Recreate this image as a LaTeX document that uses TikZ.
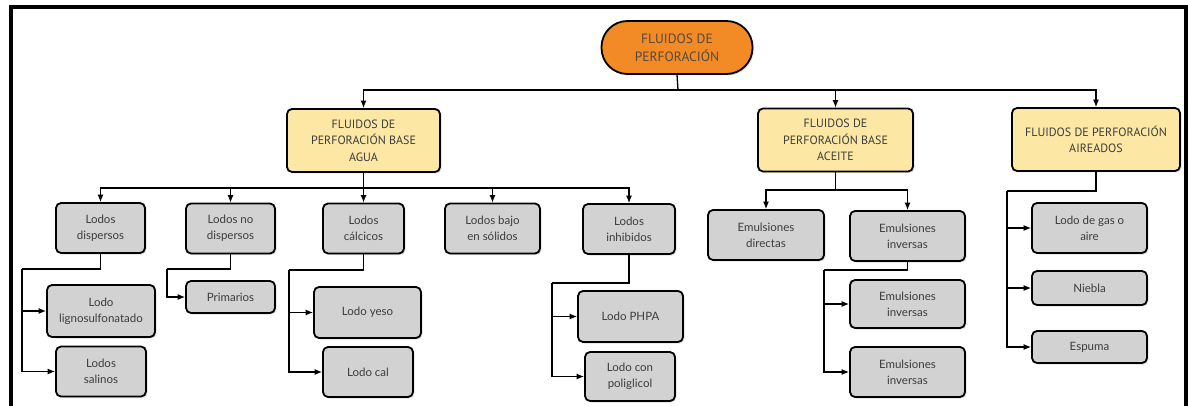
\documentclass[tikz,border=0pt]{standalone}
\usepackage{fontspec}
\usepackage{xcolor}
\usepackage{tikz}
\usetikzlibrary{arrows.meta,shadows}
\newfontfamily\capfont{PT Sans}
\newfontfamily\boxfont{Lato}
\definecolor{naranja}{HTML}{F28B25}
\definecolor{amarillo}{HTML}{FCE7A4}
\definecolor{gris}{HTML}{D2D2D2}
\definecolor{letra}{HTML}{3C3C3C}

\begin{document}
\begin{tikzpicture}[x=1pt,y=-1pt,
    raiz/.style={draw,line width=1.8pt,fill=naranja,rounded corners=26pt,
        minimum width=151pt,minimum height=53pt,inner sep=0pt,align=center,
        text=letra!80!brown,font=\capfont\fontsize{13.5}{18}\selectfont,
        drop shadow={shadow xshift=1.5pt,shadow yshift=-1.5pt,opacity=0.25}},
    tipo/.style={draw,line width=1.8pt,fill=amarillo,rounded corners=5pt,
        minimum height=63pt,inner sep=0pt,align=center,text=letra,
        font=\capfont\fontsize{12}{16.5}\selectfont,
        drop shadow={shadow xshift=1.5pt,shadow yshift=-1.5pt,opacity=0.25}},
    lodo/.style={draw,line width=1.8pt,fill=gris,rounded corners=5pt,
        minimum height=50pt,inner sep=0pt,align=center,text=letra,
        font=\boxfont\fontsize{11.5}{16}\selectfont,
        drop shadow={shadow xshift=1.5pt,shadow yshift=-1.5pt,opacity=0.25}},
    link/.style={line width=1.1pt,-{Latex[length=7.5pt,width=6pt]}},
    tramo/.style={line width=1.3pt}]
    \useasboundingbox (0,0) rectangle (1188,406);
    % marco
    \draw[line width=4pt] (10.5,412) -- (10.5,7.5) -- (1185.5,7.5) -- (1185.5,412);

    % niveles 0 y 1
    \node[raiz] (fluidos) at (677,47.5) {FLUIDOS DE\\PERFORACIÓN};
    \node[tipo,minimum width=153pt] (agua) at (363.5,140.5) {FLUIDOS DE\\PERFORACIÓN BASE\\AGUA};
    \node[tipo,minimum width=155pt] (aceite) at (835.5,140) {FLUIDOS DE\\PERFORACIÓN BASE\\ACEITE};
    \node[tipo,minimum width=168pt] (aireados) at (1096,139.5) {FLUIDOS DE PERFORACIÓN\\AIREADOS};

    % base agua
    \node[lodo,minimum width=89pt] (disp) at (100.5,228) {Lodos\\dispersos};
    \node[lodo,minimum width=89pt] (nodisp) at (230.5,228.5) {Lodos no\\dispersos};
    \node[lodo,minimum width=81pt] (calc) at (363.5,228.5) {Lodos\\cálcicos};
    \node[lodo,minimum width=95pt] (bajo) at (492.5,228.5) {Lodos bajo\\en sólidos};
    \node[lodo,minimum width=92pt] (inhib) at (629,229) {Lodos\\inhibidos};
    \node[lodo,minimum width=108pt,minimum height=52pt] (ligno) at (101,311) {Lodo\\lignosulfonatado};
    \node[lodo,minimum width=90pt] (salinos) at (101,371.5) {Lodos\\salinos};
    \node[lodo,minimum width=89pt,minimum height=32pt] (prim) at (230.5,297) {Primarios};
    \node[lodo,minimum width=107pt,minimum height=51pt] (yeso) at (367.5,312.5) {Lodo yeso};
    \node[lodo,minimum width=90pt] (cal) at (368,372) {Lodo cal};
    \node[lodo,minimum width=105pt,minimum height=51pt] (phpa) at (630.5,316.5) {Lodo PHPA};
    \node[lodo,minimum width=90pt,minimum height=49pt] (polig) at (630,376.5) {Lodo con\\poliglicol};

    % base aceite
    \node[lodo,minimum width=116pt] (directas) at (766,235) {Emulsiones\\directas};
    \node[lodo,minimum width=115pt] (inv) at (907.5,236) {Emulsiones\\inversas};
    \node[lodo,minimum width=115pt,minimum height=48pt] (inva) at (907.5,304) {Emulsiones\\inversas};
    \node[lodo,minimum width=115pt] (invb) at (907.5,372) {Emulsiones\\inversas};

    % aireados
    \node[lodo,minimum width=115pt] (gas) at (1089.5,228) {Lodo de gas o\\aire};
    \node[lodo,minimum width=115pt,minimum height=34pt] (niebla) at (1089.5,288) {Niebla};
    \node[lodo,minimum width=115pt,minimum height=32pt] (espuma) at (1089.5,347) {Espuma};

    % puntos de quiebre
    \coordinate (bus1) at (678,90);
    \coordinate (bus2) at (363.5,188);
    \coordinate (bus3) at (835.5,190);
    \coordinate (dispL) at (22,269);
    \coordinate (nodispL) at (167,269);
    \coordinate (calcL) at (289,270);
    \coordinate (inhibL) at (552,283);
    \coordinate (invL) at (824,270);
    \coordinate (airL) at (1007,191);

    % conectores
    \draw[tramo] (fluidos.south) -- (bus1);
    \foreach \t in {agua,aceite,aireados}
        \draw[link] (bus1) -| (\t.north);
    \draw[tramo] (agua.south) -- (bus2);
    \foreach \t in {disp,nodisp,calc,bajo,inhib}
        \draw[link] (bus2) -| (\t.north);
    \draw[tramo] (aceite.south) -- (bus3);
    \draw[link] (bus3) -| (directas.north);
    \draw[link] (bus3) -| (inv.north);
    \draw[tramo] (disp.south) |- (dispL);
    \draw[link] (dispL) |- (ligno.west);
    \draw[link] (dispL) |- (salinos.west);
    \draw[tramo] (nodisp.south) |- (nodispL);
    \draw[link] (nodispL) |- (prim.west);
    \draw[tramo] (calc.south) |- (calcL);
    \draw[link] (calcL) |- (yeso.west);
    \draw[link] (calcL) |- (cal.west);
    \draw[tramo] (inhib.south) |- (inhibL);
    \draw[link] (inhibL) |- (phpa.west);
    \draw[link] (inhibL) |- (polig.west);
    \draw[tramo] (inv.south) |- (invL);
    \draw[link] (invL) |- (inva.west);
    \draw[link] (invL) |- (invb.west);
    \draw[tramo] (aireados.south) |- (airL);
    \foreach \t in {gas,niebla,espuma}
        \draw[link] (airL) |- (\t.west);
\end{tikzpicture}
\end{document}
